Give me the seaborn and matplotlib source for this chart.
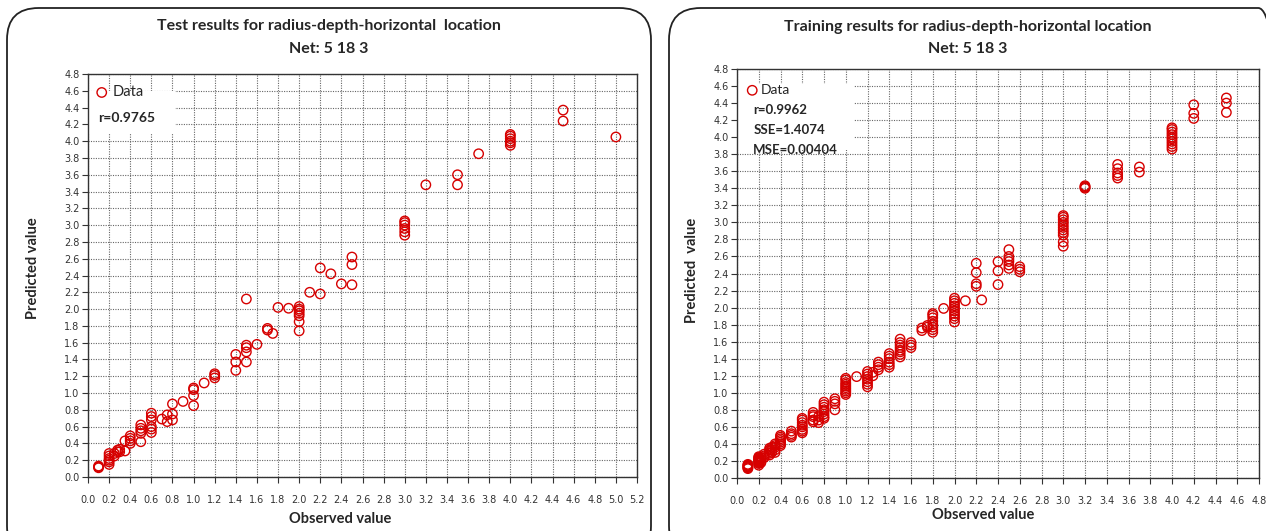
import matplotlib
matplotlib.use("Agg")
import matplotlib.pyplot as plt
from matplotlib.patches import FancyBboxPatch, Rectangle
import seaborn as sns
import numpy as np
import pandas as pd

sns.set_theme(style="white")
plt.rcParams['font.family'] = ['Lato', 'DejaVu Sans']

# ---------------- data ----------------
test_groups = [
    (0.1, [0.11, 0.12, 0.13]),
    (0.2, [0.15, 0.18, 0.20, 0.22, 0.25, 0.28]),
    (0.25, [0.25, 0.28]),
    (0.28, [0.30, 0.32]),
    (0.3, [0.30, 0.33]),
    (0.35, [0.31, 0.43]),
    (0.4, [0.40, 0.43, 0.46, 0.49]),
    (0.5, [0.42, 0.52, 0.55, 0.58, 0.62]),
    (0.6, [0.53, 0.57, 0.60, 0.68, 0.72, 0.76]),
    (0.7, [0.69]),
    (0.75, [0.66, 0.74]),
    (0.8, [0.68, 0.75, 0.87]),
    (0.9, [0.90]),
    (1.0, [0.85, 0.97, 1.04, 1.06]),
    (1.1, [1.12]),
    (1.2, [1.18, 1.21, 1.23]),
    (1.4, [1.27, 1.37, 1.46]),
    (1.5, [1.37, 1.49, 1.54, 1.57, 2.12]),
    (1.6, [1.58]),
    (1.7, [1.75, 1.77]),
    (1.75, [1.71]),
    (1.8, [2.02]),
    (1.9, [2.01]),
    (2.0, [1.74, 1.85, 1.92, 1.95, 1.98, 2.00, 2.03]),
    (2.1, [2.20]),
    (2.2, [2.18, 2.49]),
    (2.3, [2.42]),
    (2.4, [2.30]),
    (2.5, [2.29, 2.53, 2.62]),
    (3.0, [2.88, 2.92, 2.96, 3.00, 3.03, 3.05]),
    (3.2, [3.48]),
    (3.5, [3.48, 3.60]),
    (3.7, [3.85]),
    (4.0, [3.95, 3.98, 4.00, 4.03, 4.06, 4.08]),
    (4.5, [4.24, 4.37]),
    (5.0, [4.05]),
]

train_groups = [
    (0.1, [0.11, 0.12, 0.13, 0.14, 0.15, 0.16]),
    (0.2, [0.15, 0.17, 0.18, 0.19, 0.20, 0.21, 0.22, 0.23, 0.24, 0.25]),
    (0.22, [0.18, 0.20, 0.22, 0.24]),
    (0.25, [0.24, 0.26, 0.28]),
    (0.3, [0.27, 0.29, 0.31, 0.33, 0.35]),
    (0.32, [0.30, 0.33, 0.36]),
    (0.35, [0.30, 0.33, 0.36, 0.38, 0.40]),
    (0.4, [0.38, 0.40, 0.42, 0.44, 0.46, 0.48, 0.50]),
    (0.5, [0.48, 0.50, 0.52, 0.55]),
    (0.6, [0.53, 0.55, 0.57, 0.60, 0.62, 0.65, 0.68, 0.70]),
    (0.7, [0.66, 0.68, 0.72, 0.74, 0.77]),
    (0.75, [0.65, 0.68, 0.72]),
    (0.8, [0.70, 0.72, 0.75, 0.78, 0.80, 0.83, 0.86, 0.89]),
    (0.9, [0.80, 0.87, 0.90, 0.93]),
    (1.0, [0.98, 1.00, 1.02, 1.04, 1.06, 1.08, 1.10, 1.12, 1.15, 1.17]),
    (1.1, [1.19]),
    (1.2, [1.07, 1.10, 1.13, 1.16, 1.19, 1.22, 1.25]),
    (1.25, [1.20, 1.24]),
    (1.3, [1.27, 1.30, 1.33, 1.36]),
    (1.4, [1.30, 1.33, 1.36, 1.40, 1.43, 1.46]),
    (1.5, [1.42, 1.45, 1.48, 1.50, 1.53, 1.56, 1.59, 1.63]),
    (1.6, [1.53, 1.56, 1.59]),
    (1.7, [1.73, 1.76]),
    (1.75, [1.77, 1.79]),
    (1.8, [1.71, 1.74, 1.77, 1.80, 1.84, 1.88, 1.91, 1.93]),
    (1.9, [1.99]),
    (2.0, [1.83, 1.87, 1.90, 1.93, 1.96, 1.99, 2.02, 2.05, 2.08, 2.11]),
    (2.1, [2.08]),
    (2.2, [2.25, 2.28, 2.41, 2.52]),
    (2.25, [2.09]),
    (2.4, [2.27, 2.43, 2.54]),
    (2.5, [2.46, 2.50, 2.54, 2.57, 2.60, 2.68]),
    (2.6, [2.42, 2.45, 2.48]),
    (3.0, [2.72, 2.77, 2.85, 2.88, 2.91, 2.94, 2.97, 3.00, 3.03, 3.06, 3.08]),
    (3.2, [3.40, 3.41, 3.42, 3.43]),
    (3.5, [3.52, 3.55, 3.58, 3.63, 3.68]),
    (3.7, [3.59, 3.65]),
    (4.0, [3.86, 3.89, 3.92, 3.95, 3.98, 4.00, 4.03, 4.06, 4.09, 4.11]),
    (4.2, [4.22, 4.28, 4.38]),
    (4.5, [4.29, 4.40, 4.46]),
]

test_title = ["Test results for radius-depth-horizontal  location", "Net: 5 18 3"]
train_title = ["Training results for radius-depth-horizontal location", "Net: 5 18 3"]
test_stats = ["r=0.9765"]
train_stats = ["r=0.9962", "SSE=1.4074", "MSE=0.00404"]
test_xmax, train_xmax = 5.2, 4.8
ymax = 4.8


def flatten(groups):
    xs, ys = [], []
    for x, vals in groups:
        for v in vals:
            xs.append(x)
            ys.append(v)
    return pd.DataFrame({"Observed": xs, "Predicted": ys})


df_test = flatten(test_groups)
df_train = flatten(train_groups)

W, H = 1266, 531
fig = plt.figure(figsize=(W / 100, H / 100), dpi=100)
fig.patch.set_facecolor("white")


def px_axes(x0, x1, ytop, ybot):
    return fig.add_axes([x0 / W, (H - ybot) / H, (x1 - x0) / W, (ybot - ytop) / H])


# panel borders
for (bx0, bx1) in [(7, 651), (669, 1290)]:
    p = FancyBboxPatch(((bx0) / W, -0.05), (bx1 - bx0) / W, (H - 8) / H + 0.05,
                       boxstyle="round,pad=0,rounding_size=0.025",
                       transform=fig.transFigure, fill=False,
                       edgecolor="#222222", linewidth=1.3, mutation_aspect=W / H)
    fig.patches.append(p)

RED = "#d60000"


def draw(ax, df, xmax, box):
    sns.scatterplot(data=df, x="Observed", y="Predicted", ax=ax, marker="o",
                    s=46, facecolors="none", edgecolor=RED, linewidth=1.0,
                    zorder=3, legend=False)
    ax.set_xlim(0, xmax)
    ax.set_ylim(0, ymax)
    ax.set_xticks(np.round(np.arange(0, xmax + 0.001, 0.2), 1))
    ax.set_yticks(np.round(np.arange(0, ymax + 0.001, 0.2), 1))
    ax.xaxis.set_major_formatter(matplotlib.ticker.FormatStrFormatter("%.1f"))
    ax.yaxis.set_major_formatter(matplotlib.ticker.FormatStrFormatter("%.1f"))
    ax.grid(True, linestyle=(0, (1, 1.2)), color="#666666", linewidth=0.8)
    ax.set_axisbelow(True)
    for s in ax.spines.values():
        s.set_color("#333333")
        s.set_linewidth(1.0)
    ax.tick_params(axis="both", direction="out", length=4, width=0.8,
                   color="#333333", labelsize=7, labelcolor="#333333",
                   left=True, bottom=True)
    ax.tick_params(axis="x", pad=9)
    ax.tick_params(axis="y", pad=2)
    for lab in ax.get_xticklabels() + ax.get_yticklabels():
        lab.set_family(["DejaVu Sans"])
    ax.set_xlabel("")
    ax.set_ylabel("")
    ax.add_patch(Rectangle((box[0], box[1]), box[2], box[3], facecolor="white",
                           edgecolor="none", zorder=1))
    return ax


# ---------- left (test) ----------
axL = px_axes(88, 637, 74, 477)
draw(axL, df_test, test_xmax, (0.0, 4.1, 0.82, 0.5))
axL.scatter([0.13], [4.58], s=46, facecolors="none", edgecolors=RED, linewidths=1.0, zorder=4)
axL.text(0.23, 4.58, "Data", fontsize=10.5, va="center", ha="left", zorder=4)
axL.text(0.1, 4.28, test_stats[0], fontsize=10, fontweight="bold", va="center", ha="left", zorder=4)

fig.text(329 / W, 1 - 26 / H, test_title[0], ha="center", va="center", fontsize=11.5, fontweight="bold")
fig.text(329 / W, 1 - 49 / H, test_title[1], ha="center", va="center", fontsize=11.5, fontweight="bold")
fig.text(340 / W, 1 - 519 / H, "Observed value", ha="center", va="center", fontsize=10.5, fontweight="bold")
fig.text(33 / W, 1 - 268 / H, "Predicted value", ha="center", va="center", fontsize=10.5,
         fontweight="bold", rotation=90)

# ---------- right (train) ----------
axR = px_axes(737, 1259, 69, 478)
draw(axR, df_train, train_xmax, (0.0, 3.85, 1.08, 0.77))
axR.scatter([0.14], [4.55], s=46, facecolors="none", edgecolors=RED, linewidths=1.0, zorder=4)
axR.text(0.22, 4.55, "Data", fontsize=10, va="center", ha="left", zorder=4)
for i, t in enumerate(train_stats):
    axR.text(0.15, 4.32 - i * 0.235, t, fontsize=9.5, fontweight="bold", va="center", ha="left", zorder=4)

fig.text(968 / W, 1 - 27 / H, train_title[0], ha="center", va="center", fontsize=11.5, fontweight="bold")
fig.text(968 / W, 1 - 49 / H, train_title[1], ha="center", va="center", fontsize=11.5, fontweight="bold")
fig.text(983 / W, 1 - 515 / H, "Observed value", ha="center", va="center", fontsize=10.5, fontweight="bold")
fig.text(692 / W, 1 - 270 / H, "Predicted  value", ha="center", va="center", fontsize=10.5,
         fontweight="bold", rotation=90)

fig.savefig("out.png", dpi=100, facecolor="white")
